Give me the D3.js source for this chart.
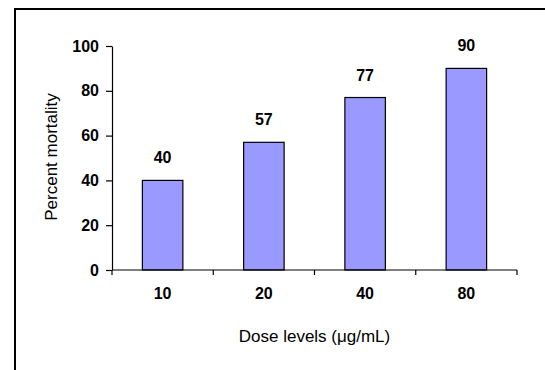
<!DOCTYPE html>
<html><head><meta charset="utf-8">
<script src="https://cdn.jsdelivr.net/npm/d3@7"></script>
<style>html,body{margin:0;padding:0;background:#fff;}</style>
</head><body>
<script>
const categories = ["10", "20", "40", "80"];
const values = [40, 57, 77, 90];
const yTicks = [0, 20, 40, 60, 80, 100];

const W = 545, H = 370;
const FONT = "'Liberation Sans', Arial, sans-serif";
const svg = d3.select("body").append("svg").attr("width", W).attr("height", H)
  .style("font-family", FONT);

// outer frame (only top/left visible)
svg.append("rect").attr("x", 15).attr("y", 9).attr("width", 600).attr("height", 400)
  .attr("fill", "none").attr("stroke", "#000").attr("stroke-width", 2);

const x0 = 112, x1 = 517, yBottom = 270, yTop = 46;
const x = d3.scaleBand().domain(categories).range([x0, x1]).paddingInner(0.6).paddingOuter(0.3);
const y = d3.scaleLinear().domain([0, 100]).range([yBottom, yTop]);

// bars
svg.selectAll("rect.bar").data(values).enter().append("rect").attr("class", "bar")
  .attr("x", (d, i) => x(categories[i]))
  .attr("y", d => y(d))
  .attr("width", x.bandwidth())
  .attr("height", d => yBottom - y(d))
  .attr("fill", "#9999ff").attr("stroke", "#000").attr("stroke-width", 1.2);

// value labels
svg.selectAll("text.val").data(values).enter().append("text").attr("class", "val")
  .attr("x", (d, i) => x(categories[i]) + x.bandwidth() / 2)
  .attr("y", d => y(d) - 17)
  .attr("text-anchor", "middle").attr("font-weight", "bold").attr("font-size", 16)
  .text(d => d);

// y axis
const yAxis = d3.axisLeft(y).tickValues(yTicks).tickSize(6).tickPadding(7).tickSizeOuter(0);
const gy = svg.append("g").attr("transform", `translate(${x0},0)`).call(yAxis);
gy.selectAll("text").attr("font-size", 16).attr("font-weight", "bold").attr("fill", "#000")
  .style("font-family", FONT);
gy.select(".domain").attr("stroke", "#000").attr("stroke-width", 1.2);
gy.selectAll(".tick line").attr("stroke", "#000").attr("stroke-width", 1.2);

// x axis: line with boundary ticks
const gx = svg.append("g").attr("transform", `translate(0,${yBottom})`);
gx.append("line").attr("x1", x0).attr("x2", x1).attr("y1", 0).attr("y2", 0)
  .attr("stroke", "#000").attr("stroke-width", 1.2);
const bounds = d3.range(categories.length + 1).map(i => x0 + i * (x1 - x0) / categories.length);
gx.selectAll("line.tk").data(bounds).enter().append("line").attr("class", "tk")
  .attr("x1", d => d).attr("x2", d => d).attr("y1", 0).attr("y2", 5)
  .attr("stroke", "#000").attr("stroke-width", 1.2);
gx.selectAll("text.cat").data(categories).enter().append("text").attr("class", "cat")
  .attr("x", d => x(d) + x.bandwidth() / 2).attr("y", 29)
  .attr("text-anchor", "middle").attr("font-weight", "bold").attr("font-size", 16)
  .text(d => d);

// axis titles
svg.append("text").attr("x", (x0 + x1) / 2).attr("y", 342).attr("text-anchor", "middle")
  .attr("font-size", 17).text("Dose levels (μg/mL)");
svg.append("text").attr("transform", "translate(57,157) rotate(-90)").attr("text-anchor", "middle")
  .attr("font-size", 17).text("Percent mortality");
</script>
</body></html>
